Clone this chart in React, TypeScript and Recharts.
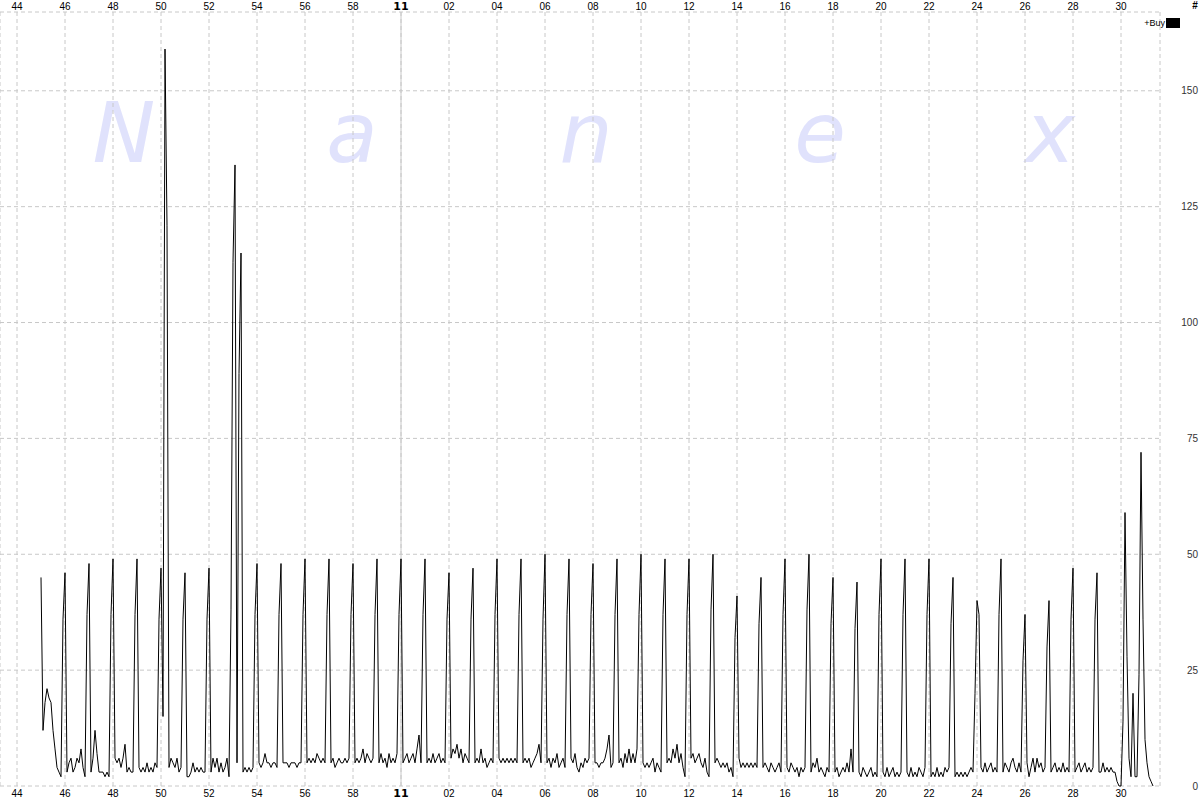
import {
  LineChart,
  Line,
  XAxis,
  YAxis,
  CartesianGrid,
  ReferenceLine,
} from "recharts";

// seconds after 10:00:00 of the first sample, one sample every 5 s
const firstSecond = 2700;
const stepSeconds = 5;

// +Buy counts, one row per minute (:00 ... :55)
const buys1045 = [
  45, 12, 18, 21, 19, 18, 12, 8, 4, 3, 2, 36, // 10:45
  46, 3, 5, 6, 3, 4, 6, 5, 8, 4, 2, 37, // 10:46
  48, 3, 6, 12, 7, 3, 3, 3, 2, 3, 2, 37, // 10:47
  49, 6, 5, 6, 4, 6, 9, 3, 4, 3, 3, 37, // 10:48
  49, 4, 3, 4, 3, 5, 3, 4, 3, 5, 4, 36, // 10:49
  47, 15, 159, 121, 4, 6, 5, 4, 6, 3, 4, 36, // 10:50
  46, 2, 2, 3, 5, 3, 4, 3, 4, 3, 3, 36, // 10:51
  47, 3, 6, 4, 6, 3, 5, 3, 4, 6, 2, 38, // 10:52
  113, 134, 5, 89, 115, 3, 4, 3, 4, 3, 4, 37, // 10:53
  48, 5, 4, 5, 7, 5, 5, 4, 5, 5, 4, 37, // 10:54
  48, 5, 5, 5, 4, 5, 5, 5, 4, 5, 5, 37, // 10:55
  49, 5, 6, 5, 6, 5, 7, 6, 5, 6, 5, 37, // 10:56
  49, 5, 6, 4, 5, 6, 5, 5, 6, 5, 6, 37, // 10:57
  48, 5, 6, 5, 6, 8, 5, 7, 6, 5, 6, 37, // 10:58
  49, 5, 7, 5, 6, 4, 7, 5, 6, 5, 7, 37, // 10:59
];

const buys1100 = [
  49, 5, 6, 7, 5, 6, 7, 5, 8, 11, 5, 37, // 11:00
  49, 5, 6, 5, 7, 5, 6, 7, 5, 6, 5, 36, // 11:01
  46, 6, 8, 7, 9, 6, 8, 5, 7, 6, 5, 36, // 11:02
  47, 5, 6, 5, 8, 5, 6, 4, 5, 6, 5, 37, // 11:03
  49, 6, 5, 6, 5, 6, 5, 6, 5, 6, 5, 37, // 11:04
  49, 5, 6, 5, 6, 4, 5, 6, 7, 9, 5, 36, // 11:05
  50, 5, 6, 4, 6, 5, 7, 4, 5, 6, 4, 37, // 11:06
  49, 6, 5, 7, 4, 3, 5, 4, 6, 5, 6, 37, // 11:07
  48, 5, 5, 4, 5, 5, 6, 8, 11, 4, 5, 37, // 11:08
  49, 5, 6, 4, 7, 5, 8, 5, 7, 5, 8, 37, // 11:09
  50, 5, 4, 5, 4, 5, 6, 3, 5, 4, 3, 37, // 11:10
  49, 5, 6, 5, 8, 6, 9, 5, 7, 4, 2, 37, // 11:11
  49, 6, 7, 5, 6, 7, 5, 4, 6, 3, 2, 38, // 11:12
  50, 5, 6, 5, 4, 5, 4, 5, 3, 4, 2, 32, // 11:13
  41, 6, 4, 5, 4, 5, 4, 5, 4, 5, 4, 35, // 11:14
];

const buys1115 = [
  45, 4, 5, 4, 3, 5, 4, 3, 4, 5, 3, 37, // 11:15
  49, 4, 3, 5, 4, 3, 4, 2, 4, 3, 4, 38, // 11:16
  50, 3, 5, 4, 6, 3, 4, 3, 2, 4, 3, 35, // 11:17
  45, 3, 4, 2, 3, 4, 3, 5, 3, 8, 3, 34, // 11:18
  44, 3, 2, 4, 3, 2, 3, 4, 2, 3, 2, 37, // 11:19
  49, 3, 2, 4, 2, 3, 4, 2, 3, 2, 3, 37, // 11:20
  49, 3, 2, 4, 2, 3, 2, 4, 3, 2, 4, 37, // 11:21
  49, 2, 3, 2, 4, 2, 3, 2, 4, 3, 4, 35, // 11:22
  45, 2, 3, 2, 3, 2, 3, 2, 3, 4, 3, 20, // 11:23
  40, 37, 4, 3, 5, 3, 4, 5, 3, 4, 3, 37, // 11:24
  49, 3, 5, 4, 3, 5, 6, 4, 3, 5, 3, 27, // 11:25
  37, 5, 2, 4, 6, 3, 6, 4, 5, 3, 4, 30, // 11:26
  40, 3, 4, 5, 3, 4, 3, 5, 3, 4, 3, 36, // 11:27
  47, 3, 4, 5, 3, 4, 5, 3, 4, 3, 4, 36, // 11:28
  46, 3, 3, 5, 3, 4, 3, 4, 3, 3, 1, 0, // 11:29
  0, 14, 59, 28, 6, 2, 20, 2, 2, 24, 72, 36, // 11:30
  10, 5, 2, 1, 0, // 11:31
];

const tickTimes = [
  2640, 2760, 2880, 3000, 3120, 3240, 3360, 3480, 3600, 3720, 3840, 3960,
  4080, 4200, 4320, 4440, 4560, 4680, 4800, 4920, 5040, 5160, 5280, 5400,
];
const tickLabels = [
  "44", "46", "48", "50", "52", "54", "56", "58", "11", "02", "04", "06",
  "08", "10", "12", "14", "16", "18", "20", "22", "24", "26", "28", "30",
];
const yTicks = [0, 25, 50, 75, 100, 125, 150];

const watermark = ["N", "a", "n", "e", "x"];
const watermarkX = [124, 352, 586, 820, 1050];

const data = [...buys1045, ...buys1100, ...buys1115].map((v, i) => ({
  t: firstSecond + i * stepSeconds,
  v,
}));

const XTick = (props: any) => {
  const { x, payload, side } = props;
  const idx = tickTimes.indexOf(payload.value);
  const hour = payload.value === 3600;
  return (
    <text
      x={x}
      y={side === "top" ? 10 : 797}
      textAnchor="middle"
      fontFamily={hour ? "DejaVu Sans" : "Liberation Sans"}
      fontSize={hour ? 11 : 10}
      fontWeight={hour ? "bold" : "normal"}
      fill="#000"
    >
      {tickLabels[idx]}
    </text>
  );
};

const YTick = (props: any) => {
  const { y, payload } = props;
  return (
    <text
      x={1198}
      y={y}
      dy={3.5}
      textAnchor="end"
      fontFamily="Liberation Sans"
      fontSize={10}
      fill="#333"
    >
      {payload.value}
    </text>
  );
};

export default function App() {
  return (
    <div
      style={{
        position: "absolute",
        left: 0,
        top: 0,
        width: 1200,
        height: 800,
        background: "#fff",
      }}
    >
      <svg
        width={1200}
        height={800}
        style={{ position: "absolute", left: 0, top: 0 }}
      >
        {watermark.map((ch, i) => (
          <text
            key={i}
            x={watermarkX[i]}
            y={162}
            textAnchor="middle"
            fontFamily="DejaVu Sans"
            fontStyle="italic"
            fontSize={84}
            fill="#e0e2fc"
          >
            {ch}
          </text>
        ))}
      </svg>
      <div style={{ position: "absolute", left: 0, top: 0 }}>
        <LineChart
          width={1200}
          height={800}
          data={data}
          margin={{ top: 0, right: 0, bottom: 0, left: 0 }}
        >
          <CartesianGrid
            xAxisId="b"
            yAxisId="v"
            stroke="#c8c8c8"
            strokeDasharray="4 3"
          />
          <XAxis
            xAxisId="t"
            orientation="top"
            dataKey="t"
            type="number"
            domain={[2597.5, 5497.5]}
            ticks={tickTimes}
            interval={0}
            height={12}
            axisLine={false}
            tickLine={false}
            tick={(p: any) => <XTick {...p} side="top" />}
          />
          <XAxis
            xAxisId="b"
            orientation="bottom"
            dataKey="t"
            type="number"
            domain={[2597.5, 5497.5]}
            ticks={tickTimes}
            interval={0}
            height={14}
            axisLine={false}
            tickLine={false}
            tick={(p: any) => <XTick {...p} side="bottom" />}
          />
          <YAxis
            yAxisId="v"
            orientation="right"
            type="number"
            domain={[0, 167]}
            ticks={yTicks}
            interval={0}
            width={40}
            axisLine={false}
            tickLine={false}
            tick={<YTick />}
          />
          <ReferenceLine
            xAxisId="b"
            yAxisId="v"
            x={3600}
            stroke="#c8c8c8"
            strokeWidth={1}
          />
          <Line
            xAxisId="b"
            yAxisId="v"
            type="linear"
            dataKey="v"
            stroke="#000"
            strokeWidth={1}
            dot={false}
            isAnimationActive={false}
          />
        </LineChart>
      </div>
      <svg
        width={1200}
        height={800}
        style={{ position: "absolute", left: 0, top: 0, pointerEvents: "none" }}
      >
        <text
          x={1195}
          y={9}
          textAnchor="middle"
          fontFamily="Liberation Sans"
          fontSize={10}
          fontWeight="bold"
          fill="#000"
        >
          #
        </text>
        <text
          x={1165}
          y={26}
          textAnchor="end"
          fontFamily="Liberation Sans"
          fontSize={9}
          fill="#000"
        >
          +Buy
        </text>
        <rect x={1166} y={18} width={14} height={10} fill="#000" />
      </svg>
    </div>
  );
}
